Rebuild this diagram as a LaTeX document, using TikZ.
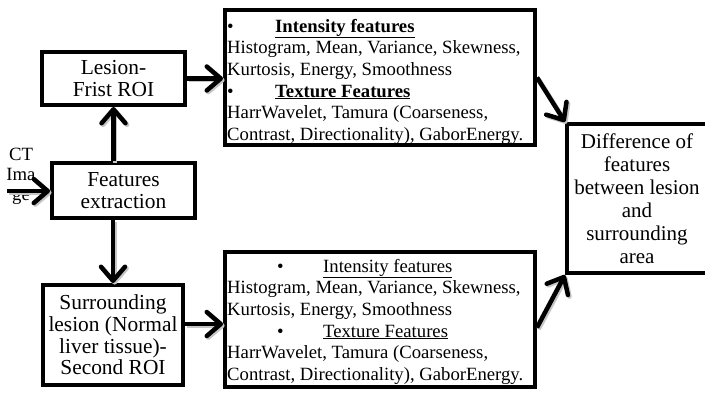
\documentclass[tikz,border=0pt]{standalone}
\usepackage{fontspec}
\setmainfont{Liberation Serif}
\usetikzlibrary{arrows.meta}
\newcommand\sarrow[2]{\draw[shad] #1 -- #2; \draw[arr] #1 -- #2;}
\begin{document}
\begin{tikzpicture}[x=1pt,y=-1pt,
  box/.style={draw, line width=4pt, rectangle, inner sep=0pt},
  boxtext/.style={font=\fontsize{21.4}{21.7}\selectfont, align=center},
  feat/.style={font=\fontsize{18.7}{21.6}\selectfont, align=left, inner sep=0pt, anchor=north west},
  arr/.style={line width=4.5pt, -{Straight Barb[length=14pt,width=24pt,round]}},
  shad/.style={arr, gray!45, transform canvas={shift={(1.6pt,-1.6pt)}}}]
\useasboundingbox[fill=white] (0,0) rectangle (705,392);

% boxes
\node[box, minimum width=143pt, minimum height=53pt, boxtext] (les) at (113.5,78.5) {Lesion-\\Frist ROI};
\node[box, minimum width=143pt, minimum height=55pt, boxtext] (fe) at (123.5,190.5) {Features\\extraction};
\node[box, minimum width=140pt, minimum height=100pt, boxtext] (sur) at (113,335) {Surrounding\\lesion (Normal\\liver tissue)-\\Second ROI};
\node[box, minimum width=310pt, minimum height=135pt] (tf) at (380,77.5) {};
\node[box, minimum width=310pt, minimum height=135pt] (bf) at (380,319.5) {};
\node[minimum width=200pt, minimum height=149pt, inner sep=0pt, outer sep=2pt] (diff) at (667,198.5) {};
\draw[line width=4pt] ([xshift=-2pt,yshift=-2pt]diff.north east) -- ([xshift=2pt,yshift=-2pt]diff.north west)
  -- ([xshift=2pt,yshift=2pt]diff.south west) -- ([xshift=-2pt,yshift=2pt]diff.south east);
\node[font=\fontsize{21}{23}\selectfont, align=center] (difft) at (637,198.5)
  {Difference of\\features\\between lesion\\and\\surrounding\\area};

% feature texts
\node[feat] (tft) at (227,16) {\rule{0pt}{16pt}\makebox[48pt][l]{\textbullet}\underline{\textbf{Intensity features}}\\
Histogram, Mean, Variance, Skewness,\\
Kurtosis, Energy, Smoothness\\
\makebox[48pt][l]{\textbullet}\underline{\textbf{Texture Features}}\\
HarrWavelet, Tamura (Coarseness,\\
Contrast, Directionality), GaborEnergy.};
\node[feat] (bft) at (227,256) {\rule{0pt}{16pt}\hspace*{50pt}\makebox[46pt][l]{\textbullet}\underline{Intensity features}\\
Histogram, Mean, Variance, Skewness,\\
Kurtosis, Energy, Smoothness\\
\hspace*{50pt}\makebox[46pt][l]{\textbullet}\underline{Texture Features}\\
HarrWavelet, Tamura (Coarseness,\\
Contrast, Directionality), GaborEnergy.};

% CT image label
\node[font=\fontsize{18.7}{20.3}\selectfont, align=center, inner sep=0pt, anchor=north] (ct) at (21,145) {\rule{0pt}{15pt}CT\\Ima\\ge};

% arrows
\coordinate (ctin) at (7,191);
\coordinate (sa) at ([yshift=11pt]sur.east);
\sarrow{(ctin)}{(ctin -| fe.west)}
\sarrow{(les.south |- fe.north)}{(les.south)}
\sarrow{(sur.north |- fe.south)}{(sur.north)}
\sarrow{(les.east)}{(les.east -| tf.west)}
\sarrow{(sa)}{(sa -| bf.west)}
\sarrow{(tf.east)}{(diff.north west)}
\sarrow{([yshift=-8pt]bf.east)}{(diff.south west)}
\end{tikzpicture}
\end{document}
